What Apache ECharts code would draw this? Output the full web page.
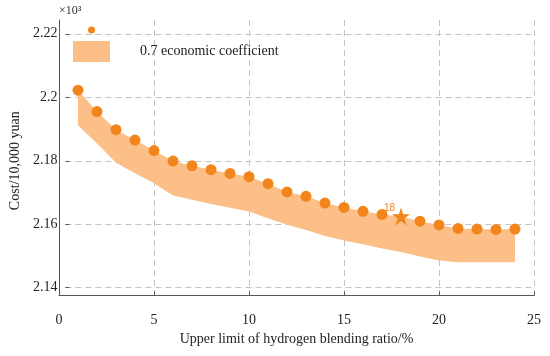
<!DOCTYPE html>
<html><head><meta charset="utf-8">
<script src="https://cdn.jsdelivr.net/npm/echarts@6/dist/echarts.min.js"></script>
<style>html,body{margin:0;padding:0;background:#fff}#c{width:550px;height:356px}</style>
</head><body><div id="c"></div>
<script>
// Upper limit of hydrogen blending ratio (%)
const ratios = [1,2,3,4,5,6,7,8,9,10,11,12,13,14,15,16,17,18,19,20,21,22,23,24];
// Cost (x10^3, 10,000 yuan)
const cost = [2.2023,2.1956,2.1899,2.1866,2.1833,2.1800,2.1785,2.1773,2.1761,2.1751,2.1729,2.1703,
              2.1689,2.1668,2.1654,2.1642,2.1632,2.1626,2.1611,2.1599,2.1588,2.1586,2.1585,2.1586];
// 0.7 economic coefficient band
const bandUpper = [2.2023,2.1956,2.1899,2.1866,2.1833,2.1800,2.1785,2.1773,2.1761,2.1751,2.1729,2.1703,
                   2.1689,2.1668,2.1654,2.1642,2.1632,2.1626,2.1611,2.1599,2.1588,2.1586,2.1585,2.1586];
const bandLower = [2.1913,2.1855,2.1795,2.1762,2.1730,2.1692,2.1678,2.1665,2.1653,2.1641,2.1620,2.1600,
                   2.1583,2.1564,2.1550,2.1538,2.1525,2.1514,2.1500,2.1487,2.1482,2.1482,2.1482,2.1482];
const xTicks = [0,5,10,15,20,25];
const yTicks = [2.14,2.16,2.18,2.2,2.22];
const highlightRatio = 18;

const SERIF = '"Liberation Serif","Times New Roman",serif';
const DOT = '#f2861c';
const BAND = '#fcbf88';
const AXIS = '#555';
const GRIDC = '#c4c4c4';
const STAR = 'path://M50,0 L61.2,34.5 L97.6,34.5 L68.2,55.9 L79.4,90.5 L50,69.1 L20.6,90.5 L31.8,55.9 L2.4,34.5 L38.8,34.5 Z';

const bandData = ratios.map((x, i) => [x, bandLower[i], bandUpper[i]]);

const chart = echarts.init(document.getElementById('c'));
chart.setOption({
  animation: false,
  backgroundColor: '#fff',
  grid: [
    {left: 59, right: 16, top: 20, bottom: 60.5},
    {left: 59, right: 16, top: 33.8, bottom: 68.3}
  ],
  legend: [
    {data: ['cost'], left: 88, top: 26.5, padding: 0, itemWidth: 7, itemHeight: 7,
     icon: 'circle', formatter: () => '', selectedMode: false},
    {data: [{name: '0.7 economic coefficient', icon: 'rect', itemStyle: {color: BAND, borderWidth: 0}}],
     left: 73, top: 41, padding: 0, itemWidth: 37, itemHeight: 21, selectedMode: false,
     textStyle: {fontFamily: SERIF, fontSize: 14, color: '#222', padding: [0, 0, 0, 25]}}
  ],
  xAxis: [
    {gridIndex: 0, type: 'value', min: xTicks[0], max: xTicks[xTicks.length - 1], interval: 5,
     axisLine: {show: true, lineStyle: {color: AXIS, width: 1}},
     axisTick: {show: true, inside: true, length: 4, lineStyle: {color: AXIS}},
     axisLabel: {margin: 18, fontFamily: SERIF, fontSize: 14, color: '#222'},
     splitLine: {show: true, lineStyle: {type: [6, 4], color: GRIDC}},
     name: 'Upper limit of hydrogen blending ratio/%', nameLocation: 'middle', nameGap: 36,
     nameTextStyle: {fontFamily: SERIF, fontSize: 14, color: '#222'}},
    {gridIndex: 1, type: 'value', min: 0, max: 25, show: false}
  ],
  yAxis: [
    {gridIndex: 0, type: 'value', min: 2.1377, max: 2.2244,
     axisLine: {show: true, lineStyle: {color: AXIS, width: 1}},
     axisTick: {show: false}, axisLabel: {show: false}, splitLine: {show: false},
     name: '×10³', nameLocation: 'end', nameGap: 3,
     nameTextStyle: {fontFamily: SERIF, fontSize: 12, color: '#333', align: 'left'}},
    {gridIndex: 1, type: 'value', min: yTicks[0], max: yTicks[yTicks.length - 1], interval: 0.02,
     axisLine: {show: false},
     axisTick: {show: true, inside: true, length: 4, lineStyle: {color: AXIS}},
     axisLabel: {margin: 8, fontFamily: SERIF, fontSize: 14, color: '#222'},
     splitLine: {show: true, lineStyle: {type: [6, 4], color: GRIDC}},
     name: 'Cost/10,000 yuan', nameLocation: 'middle', nameGap: 43,
     nameTextStyle: {fontFamily: SERIF, fontSize: 14, color: '#222'}}
  ],
  series: [
    {type: 'custom', name: '0.7 economic coefficient', xAxisIndex: 0, yAxisIndex: 0,
     data: bandData, encode: {x: 0, y: [1, 2]}, silent: true, z: 1,
     itemStyle: {color: BAND},
     renderItem: function (params, api) {
       if (params.dataIndex !== 0) return;
       const pts = [];
       for (let i = 0; i < bandData.length; i++) pts.push(api.coord([bandData[i][0], bandData[i][2]]));
       for (let i = bandData.length - 1; i >= 0; i--) pts.push(api.coord([bandData[i][0], bandData[i][1]]));
       return {type: 'polygon', shape: {points: pts}, style: {fill: BAND}};
     }},
    {type: 'scatter', name: 'cost', xAxisIndex: 0, yAxisIndex: 0, symbolSize: 11,
     itemStyle: {color: DOT, opacity: 1}, z: 3,
     data: ratios.map((x, i) => x === highlightRatio ? {
       value: [x, cost[i]], symbol: STAR, symbolSize: 18,
       label: {show: true, formatter: String(highlightRatio), position: [-8, -4],
               fontSize: 10, color: DOT, fontFamily: 'Liberation Sans, Arial, sans-serif'}
     } : [x, cost[i]])}
  ]
});
</script>
</body></html>
